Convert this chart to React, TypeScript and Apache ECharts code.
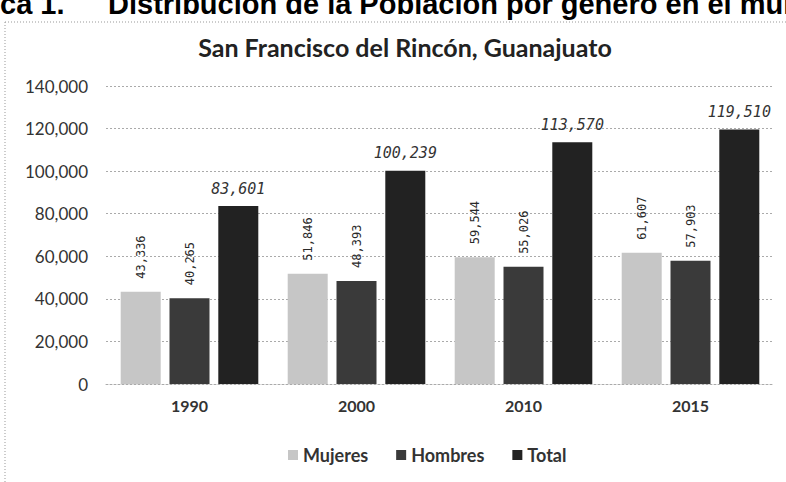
import React, { useEffect, useRef } from "react";
import * as echarts from "echarts";

const categories = ["1990", "2000", "2010", "2015"];
const mujeres = [43336, 51846, 59544, 61607];
const hombres = [40265, 48393, 55026, 57903];
const total = [83601, 100239, 113570, 119510];
const seriesNames = ["Mujeres", "Hombres", "Total"];
const headerLeft = "ca 1.";
const headerRight = "Distribución de la Población por género en el municipio";
const chartTitle = "San Francisco del Rincón, Guanajuato";

export default function App() {
  const ref = useRef<HTMLDivElement>(null);
  useEffect(() => {
    if (!ref.current) return;
    const chart = echarts.init(ref.current, null, { renderer: "svg" });
    const fmt = (v: number) => v.toLocaleString("en-US");
    const vertLabel = {
      show: true,
      position: "top",
      rotate: 90,
      align: "left",
      verticalAlign: "middle",
      distance: 13,
      fontFamily: "DejaVu Sans Mono",
      fontSize: 12,
      color: "#2a2a2a",
      formatter: (p: any) => fmt(p.value),
    };
    chart.setOption({
      animation: false,
      backgroundColor: "#ffffff",
      title: {
        text: chartTitle,
        left: 400,
        textAlign: "center",
        top: 29,
        textStyle: { fontFamily: "Lato", fontWeight: "bold", fontSize: 25, color: "#222" },
      },
      graphic: [
        {
          type: "text",
          left: 0,
          top: -11,
          style: { text: headerLeft, font: "bold 29px 'Liberation Sans'", fill: "#000" },
        },
        {
          type: "text",
          left: 108,
          top: -11,
          style: { text: headerRight, font: "bold 29px 'Liberation Sans'", fill: "#000" },
        },
        {
          type: "line",
          shape: { x1: 5, y1: 22, x2: 786, y2: 22 },
          style: { stroke: "#999", lineWidth: 1, lineDash: [1, 2] },
        },
        {
          type: "line",
          shape: { x1: 5, y1: 22, x2: 5, y2: 482 },
          style: { stroke: "#999", lineWidth: 1, lineDash: [1, 2] },
        },
      ],
      legend: {
        data: seriesNames,
        top: 441,
        left: 283,
        itemWidth: 10,
        itemHeight: 10,
        itemGap: 28,
        icon: "rect",
        textStyle: { fontFamily: "Lato", fontSize: 18, fontWeight: "bold", color: "#333" },
      },
      grid: { left: 106, right: 12, top: 86, bottom: 98, containLabel: false },
      xAxis: {
        type: "category",
        data: categories,
        axisLine: { lineStyle: { color: "#aaa", type: [2, 2] } },
        axisTick: { show: false },
        axisLabel: { fontFamily: "Lato", fontSize: 16, fontWeight: "bold", color: "#333", margin: 13 },
      },
      yAxis: {
        type: "value",
        min: 0,
        max: 140000,
        interval: 20000,
        axisLine: { show: false },
        axisTick: { show: false },
        splitLine: { lineStyle: { color: "#aaa", type: [2, 2] } },
        axisLabel: {
          fontFamily: "Lato",
          fontSize: 17,
          color: "#333",
          margin: 18,
          formatter: (v: number) => fmt(v),
        },
      },
      series: [
        {
          name: seriesNames[0],
          type: "bar",
          data: mujeres,
          barWidth: 40,
          barGap: "22%",
          itemStyle: { color: "#c6c6c6" },
          label: vertLabel,
        },
        {
          name: seriesNames[1],
          type: "bar",
          data: hombres,
          barWidth: 40,
          barGap: "22%",
          itemStyle: { color: "#3a3a3a" },
          label: vertLabel,
        },
        {
          name: seriesNames[2],
          type: "bar",
          data: total,
          barWidth: 40,
          barGap: "22%",
          itemStyle: { color: "#222222" },
          label: {
            show: true,
            position: "top",
            distance: 10,
            fontFamily: "DejaVu Sans Mono",
            fontStyle: "italic",
            fontSize: 15,
            color: "#333",
            formatter: (p: any) => fmt(p.value),
          },
        },
      ],
    });
    return () => chart.dispose();
  }, []);
  return <div ref={ref} style={{ width: 786, height: 482, position: "absolute", left: 0, top: 0 }} />;
}
